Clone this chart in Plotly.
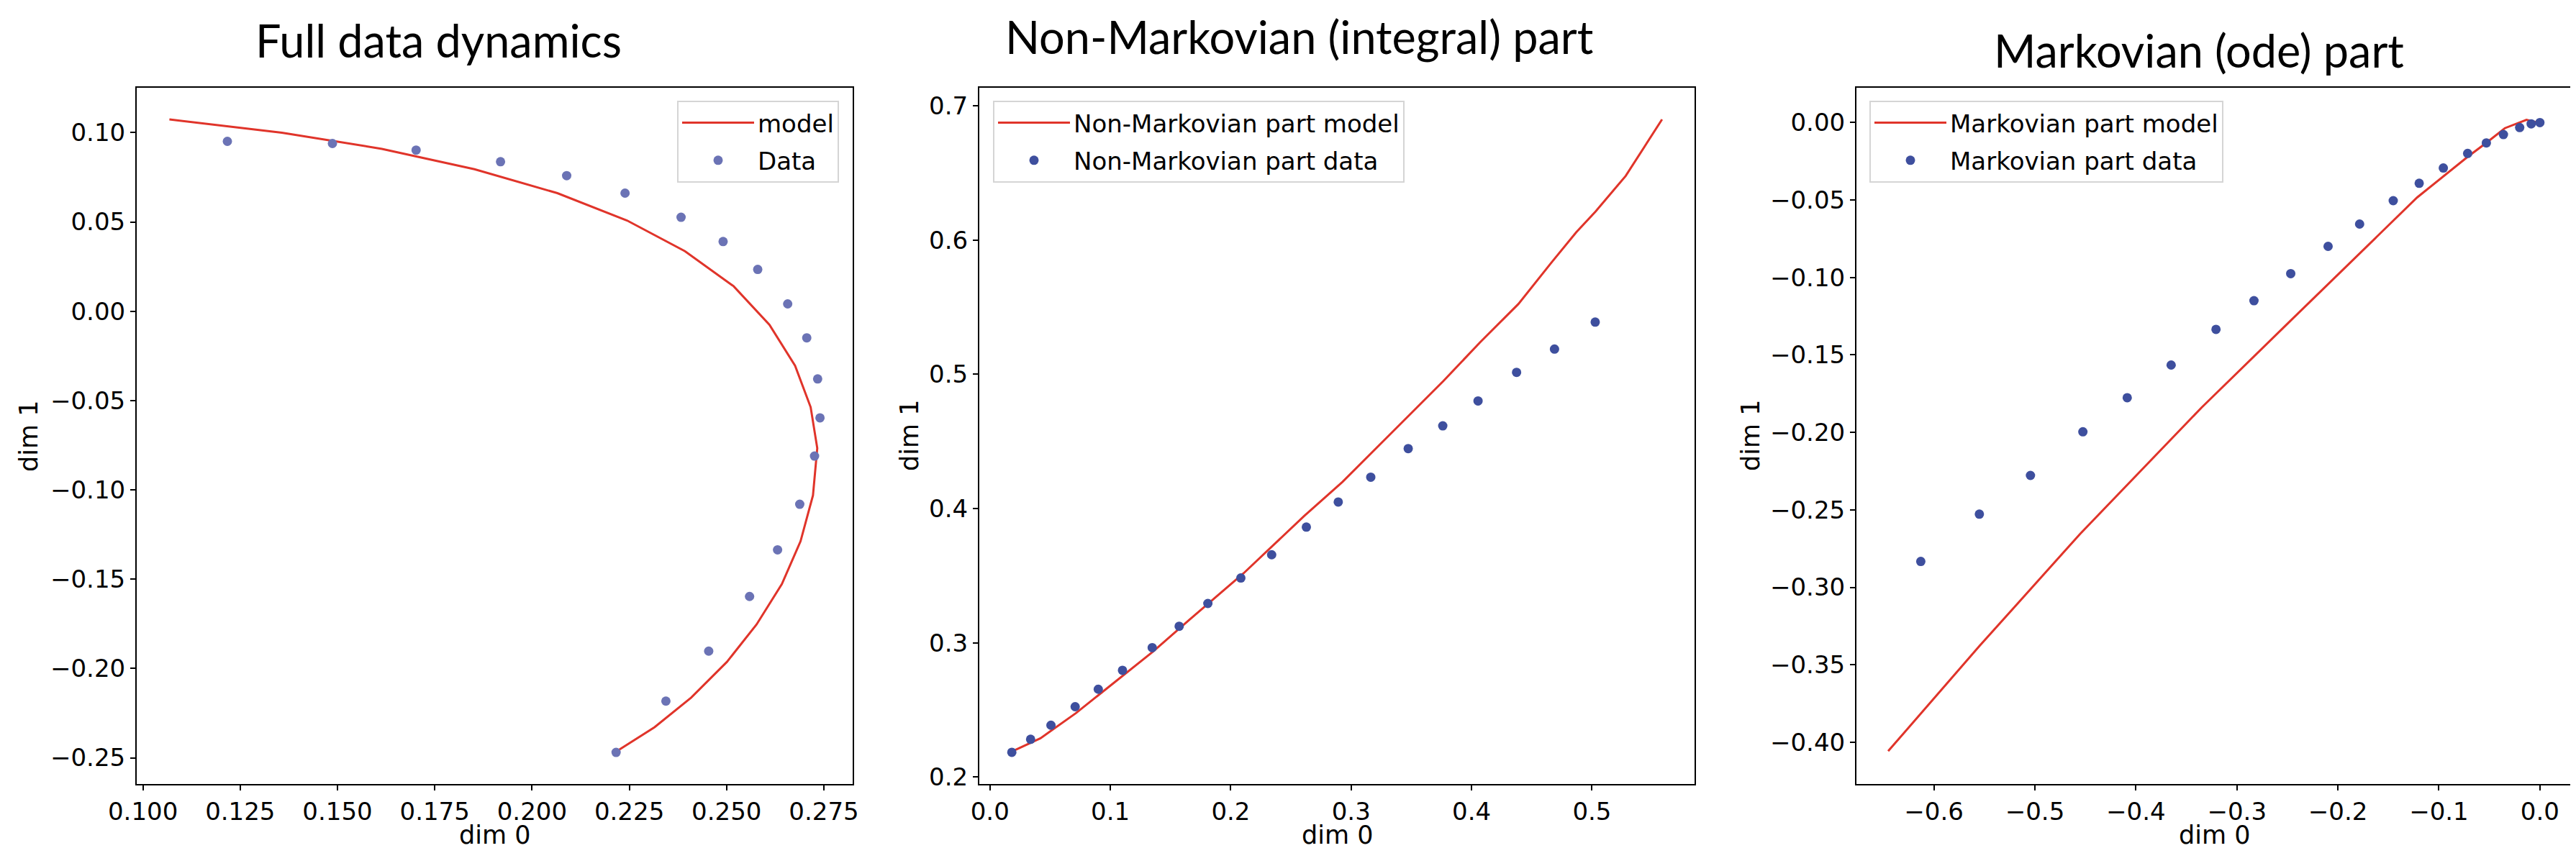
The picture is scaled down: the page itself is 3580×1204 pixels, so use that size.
import plotly.graph_objects as go
from plotly.subplots import make_subplots

# values
full_model_x = [0.1068, 0.1357, 0.1614, 0.1852, 0.2065, 0.2244, 0.2393, 0.2518, 0.2610, 0.2676,
                0.2716, 0.2733, 0.2722, 0.2690, 0.2642, 0.2577, 0.2501, 0.2409, 0.2315, 0.2216]
full_model_y = [0.1074, 0.0999, 0.0909, 0.0795, 0.0661, 0.0508, 0.0336, 0.0140, -0.0076, -0.0305,
                -0.0537, -0.0767, -0.1031, -0.1288, -0.1528, -0.1754, -0.1963, -0.2163, -0.2329, -0.2466]
full_data_x = [0.1217, 0.1487, 0.1702, 0.1919, 0.2089, 0.2239, 0.2383, 0.2491, 0.2580, 0.2657,
               0.2706, 0.2734, 0.2740, 0.2726, 0.2688, 0.2631, 0.2559, 0.2454, 0.2344, 0.2216]
full_data_y = [0.0951, 0.0939, 0.0902, 0.0837, 0.0759, 0.0661, 0.0526, 0.0390, 0.0234, 0.0041,
               -0.0149, -0.0379, -0.0597, -0.0811, -0.1081, -0.1336, -0.1597, -0.1903, -0.2183, -0.2470]

nm_model_x = [0.0182, 0.0420, 0.0713, 0.1033, 0.1353, 0.1650, 0.2107, 0.2610, 0.2929,
              0.3309, 0.3766, 0.4069, 0.4389, 0.4663, 0.4869, 0.5029, 0.5280, 0.5582]
nm_model_y = [0.2190, 0.2289, 0.2475, 0.2702, 0.2933, 0.3166, 0.3518, 0.3945, 0.4199,
              0.4540, 0.4950, 0.5237, 0.5524, 0.5832, 0.6058, 0.6212, 0.6478, 0.6899]
nm_data_x = [0.0182, 0.0338, 0.0507, 0.0708, 0.0900, 0.1101, 0.1348, 0.1572, 0.1810, 0.2084,
             0.2340, 0.2628, 0.2893, 0.3163, 0.3474, 0.3761, 0.4054, 0.4374, 0.4689, 0.5027]
nm_data_y = [0.2184, 0.2281, 0.2386, 0.2524, 0.2654, 0.2795, 0.2964, 0.3123, 0.3293, 0.3483,
             0.3656, 0.3862, 0.4049, 0.4234, 0.4447, 0.4616, 0.4802, 0.5015, 0.5188, 0.5389]

m_model_x = [-0.6453, -0.5550, -0.4552, -0.3347, -0.2467, -0.1714, -0.1215, -0.0715,
             -0.0525, -0.0347, -0.0133, 0.0]
m_model_y = [-0.4058, -0.3380, -0.2655, -0.1838, -0.1278, -0.0799, -0.0483, -0.0221,
             -0.0128, -0.0036, 0.0018, -0.0003]
m_data_x = [-0.6130, -0.5550, -0.5044, -0.4525, -0.4086, -0.3651, -0.3207, -0.2831, -0.2467, -0.2097,
            -0.1785, -0.1452, -0.1195, -0.0956, -0.0715, -0.0530, -0.0361, -0.0200, -0.0086, 0.0]
m_data_y = [-0.2833, -0.2528, -0.2278, -0.1996, -0.1776, -0.1565, -0.1335, -0.1150, -0.0975, -0.0799,
            -0.0655, -0.0504, -0.0392, -0.0293, -0.0199, -0.0131, -0.0077, -0.0032, -0.0008, 0.0]

titles = ['Full data dynamics', 'Non-Markovian (integral) part', 'Markovian (ode) part']

W, H = 3580, 1204
RED = '#e0342a'
BLUE = '#3e4f9e'
BLUE_LIGHT = '#6b73b5'
TICKFONT = dict(family='DejaVu Sans', size=34, color='black')


def px(p):
    return p / W


def py(p):
    return 1 - p / H


fig = make_subplots(rows=1, cols=3)

fig.add_trace(go.Scatter(x=full_model_x, y=full_model_y, mode='lines', name='model',
                         line=dict(color=RED, width=3), legend='legend', legendgroup='a'), 1, 1)
fig.add_trace(go.Scatter(x=full_data_x, y=full_data_y, mode='markers', name='Data',
                         marker=dict(color=BLUE_LIGHT, size=13), legend='legend', legendgroup='b'), 1, 1)
fig.add_trace(go.Scatter(x=nm_model_x, y=nm_model_y, mode='lines', name='Non-Markovian part model',
                         line=dict(color=RED, width=3), legend='legend2', legendgroup='c'), 1, 2)
fig.add_trace(go.Scatter(x=nm_data_x, y=nm_data_y, mode='markers', name='Non-Markovian part data',
                         marker=dict(color=BLUE, size=13), legend='legend2', legendgroup='d'), 1, 2)
fig.add_trace(go.Scatter(x=m_model_x, y=m_model_y, mode='lines', name='Markovian part model',
                         line=dict(color=RED, width=3), legend='legend3', legendgroup='e'), 1, 3)
fig.add_trace(go.Scatter(x=m_data_x, y=m_data_y, mode='markers', name='Markovian part data',
                         marker=dict(color=BLUE, size=13), legend='legend3', legendgroup='f'), 1, 3)

axis_style = dict(showline=True, mirror=True, linecolor='black', linewidth=2,
                  ticks='outside', ticklen=7, tickwidth=2, tickcolor='black',
                  showgrid=False, zeroline=False, automargin=False, tickfont=TICKFONT)

# plot areas in pixels (left, right), shared top/bottom
boxes = [(182, 1177), (1353, 2347), (2572, 3567)]
top, bottom = 114, 1082
xranges = [[0.0984, 0.2824], [-0.0088, 0.5852], [-0.6767, 0.0322]]
yranges = [[-0.2647, 0.1251], [0.1948, 0.7135], [-0.427, 0.0225]]
xdticks = [0.025, 0.1, 0.1]
ydticks = [0.05, 0.1, 0.05]
xfmts = ['.3f', '.1f', '.1f']
yfmts = ['.2f', '.1f', '.2f']

for i in range(3):
    fig.update_xaxes(domain=[px(boxes[i][0]), px(boxes[i][1])], range=xranges[i],
                     dtick=xdticks[i], tick0=0, tickformat=xfmts[i], row=1, col=i + 1, **axis_style)
    fig.update_yaxes(domain=[py(bottom), py(top)], range=yranges[i],
                     dtick=ydticks[i], tick0=0, tickformat=yfmts[i], row=1, col=i + 1, **axis_style)

legend_style = dict(yanchor='top', y=py(132), bgcolor='white', bordercolor='#d5d5d5', borderwidth=2,
                    font=dict(family='DejaVu Sans', size=34, color='black'),
                    tracegroupgap=5, itemwidth=100, traceorder='grouped')

fig.update_layout(
    width=W, height=H,
    margin=dict(l=0, r=0, t=0, b=0, autoexpand=False),
    plot_bgcolor='white', paper_bgcolor='white',
    showlegend=True,
    legend=dict(x=px(1158), xanchor='right', **legend_style),
    legend2=dict(x=px(1372), xanchor='left', **legend_style),
    legend3=dict(x=px(2590), xanchor='left', **legend_style),
)

# titles
title_pos = [(601, 47), (1797, 43), (3048, 62)]
for t, (cx, cy) in zip(titles, title_pos):
    fig.add_annotation(text=t, x=px(cx), y=py(cy), xref='paper', yref='paper',
                       xanchor='center', yanchor='middle', showarrow=False,
                       font=dict(family='Lato', size=63, color='black'))

# axis labels
ylabel_x = [32, 1256, 2425]
for i in range(3):
    fig.add_annotation(text='dim 0', x=px((boxes[i][0] + boxes[i][1]) / 2), y=py(1153),
                       xref='paper', yref='paper', xanchor='center', yanchor='middle',
                       showarrow=False, font=dict(family='DejaVu Sans', size=35, color='black'))
    fig.add_annotation(text='dim 1', x=px(ylabel_x[i]), y=py((top + bottom) / 2),
                       xref='paper', yref='paper', xanchor='center', yanchor='middle',
                       textangle=-90, showarrow=False,
                       font=dict(family='DejaVu Sans', size=35, color='black'))

fig.write_html("out.html")
